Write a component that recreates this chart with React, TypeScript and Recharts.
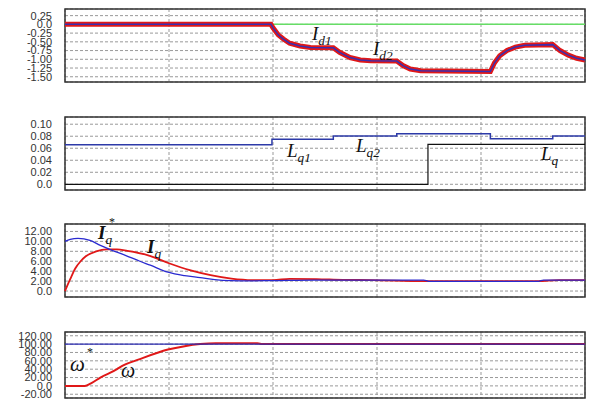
import React from "react";
import {
  LineChart,
  Line,
  XAxis,
  YAxis,
  CartesianGrid,
  ReferenceArea,
} from "recharts";

// time axis runs 0..5, one grid division per unit
const timeTicks = [0, 1, 2, 3, 4, 5];

// panel 1: d-axis current
const idTicks = [0.25, 0, -0.25, -0.5, -0.75, -1.0, -1.25, -1.5];
const idTimes = [
  0, 1.98, 2.0, 2.05, 2.1, 2.16, 2.26, 2.36, 2.58, 2.64, 2.74, 2.84, 2.94,
  3.19, 3.25, 3.32, 3.42, 4.09, 4.13, 4.18, 4.25, 4.33, 4.42, 4.69, 4.76,
  4.84, 4.92, 5.0,
];
const idValues = [
  0, 0, -0.1, -0.3, -0.42, -0.54, -0.62, -0.66, -0.67, -0.8, -0.95, -1.02,
  -1.04, -1.05, -1.18, -1.28, -1.33, -1.35, -1.1, -0.9, -0.75, -0.65, -0.6,
  -0.58, -0.75, -0.88, -0.97, -1.02,
];
const idRefTimes = [0, 5];
const idRefLevel = [0, 0];

// panel 2: q-axis inductance
const lqTicks = [0.1, 0.08, 0.06, 0.04, 0.02, 0];
const lqEstTimes = [0, 1.99, 2.58, 3.19, 4.09, 4.69, 5.0];
const lqEstValues = [0.066, 0.075, 0.0805, 0.084, 0.076, 0.0805, 0.0805];
const lqTimes = [0, 3.49, 5.0];
const lqValues = [0, 0.0665, 0.0665];

// panel 3: q-axis current
const iqTicks = [12, 10, 8, 6, 4, 2, 0];
const iqRefTimes = [
  0, 0.05, 0.125, 0.24, 0.34, 0.43, 0.58, 0.72, 0.82, 0.99, 1.15, 1.3, 1.44,
  1.59, 1.78, 2.0, 2.4, 3.45, 3.5, 4.55, 4.6, 5.0,
];
const iqRefValues = [
  10.0, 10.4, 10.6, 10.2, 9.2, 8.4, 7.2, 6.0, 5.2, 3.8, 3.1, 2.7, 2.3, 2.1,
  2.05, 2.1, 2.2, 2.2, 1.95, 1.95, 2.2, 2.2,
];
const iqTimes = [
  0, 0.02, 0.05, 0.1, 0.15, 0.2, 0.3, 0.4, 0.5, 0.6, 0.8, 1.0, 1.2, 1.4, 1.6,
  1.8, 2.0, 2.16, 2.42, 2.67, 2.95, 3.45, 4.55, 4.75, 5.0,
];
const iqValues = [
  0, 1.0, 2.4, 4.6, 6.0, 7.0, 8.0, 8.4, 8.4, 8.1, 7.2, 5.6, 4.2, 3.2, 2.5, 2.2,
  2.2, 2.45, 2.4, 2.25, 2.2, 2.0, 2.0, 2.2, 2.2,
];

// panel 4: speed
const wTicks = [120, 100, 80, 60, 40, 20, 0, -20];
const wRefTimes = [0, 5.0];
const wRefValues = [100, 100];
const wTimes = [
  0, 0.19, 0.25, 0.34, 0.5, 0.53, 0.72, 0.99, 1.15, 1.3, 1.45, 1.85, 1.9, 5.0,
];
const wValues = [0, 0, 6, 20, 40, 45, 64, 87, 95, 100, 102, 102, 100, 100];

const zip = (t: number[], v: number[]) =>
  t.map((x, i) => ({ t: x, v: v[i] }));

const fmt2 = (v: number) => (v === 0 ? "0.0" : v.toFixed(2));

const tickStyle = {
  fontSize: 11,
  fill: "#333",
  fontFamily: "Liberation Sans, Arial, sans-serif",
};

function Panel({
  top,
  height,
  mTop,
  mBottom,
  domain,
  ticks,
  children,
}: {
  top: number;
  height: number;
  mTop: number;
  mBottom: number;
  domain: [number, number];
  ticks: number[];
  children: React.ReactNode;
}) {
  return (
    <div style={{ position: "absolute", left: 0, top }}>
      <LineChart
        width={589}
        height={height}
        margin={{ top: mTop, right: 4, bottom: mBottom, left: 0 }}
      >
        <CartesianGrid stroke="#999" strokeDasharray="3 2" />
        <XAxis
          type="number"
          dataKey="t"
          domain={[0, 5]}
          ticks={timeTicks}
          hide
        />
        <YAxis
          type="number"
          domain={domain}
          ticks={ticks}
          interval={0}
          width={65}
          tickFormatter={fmt2}
          tick={tickStyle}
          tickLine={false}
          tickMargin={7}
          axisLine={false}
          allowDataOverflow
        />
        <ReferenceArea
          x1={0}
          x2={5}
          y1={domain[0]}
          y2={domain[1]}
          fill="none"
          stroke="#333"
          strokeWidth={1.5}
          ifOverflow="extendDomain"
        />
        {children}
      </LineChart>
    </div>
  );
}

const serif: React.CSSProperties = {
  position: "absolute",
  fontFamily: "Liberation Serif, Times New Roman, serif",
  fontStyle: "italic",
  lineHeight: 1,
  color: "#111",
  whiteSpace: "nowrap",
};

function Lbl({
  x,
  y,
  main,
  sub,
  size = 19,
  bold = false,
}: {
  x: number;
  y: number;
  main: string;
  sub?: string;
  size?: number;
  bold?: boolean;
}) {
  return (
    <div
      style={{ ...serif, left: x, top: y, fontSize: size, fontWeight: bold ? 700 : 400 }}
    >
      {main}
      {sub && (
        <span style={{ fontSize: size * 0.7, position: "relative", top: size * 0.28, fontWeight: 400 }}>
          {sub}
        </span>
      )}
    </div>
  );
}

export default function App() {
  return (
    <div
      style={{
        position: "absolute",
        left: 0,
        top: 0,
        width: 589,
        height: 399,
        background: "#fff",
        overflow: "hidden",
      }}
    >
      <Panel top={0} height={90} mTop={9} mBottom={8} domain={[-1.65, 0.44]} ticks={idTicks}>
        <Line
          data={zip(idRefTimes, idRefLevel)}
          dataKey="v"
          stroke="#66dd66"
          strokeWidth={1.5}
          dot={false}
          isAnimationActive={false}
        />
        <Line
          data={zip(idTimes, idValues)}
          dataKey="v"
          stroke="#e01818"
          strokeWidth={5}
          dot={false}
          isAnimationActive={false}
        />
        <Line
          data={zip(idTimes, idValues)}
          dataKey="v"
          stroke="#3a2fb0"
          strokeWidth={1.5}
          dot={false}
          isAnimationActive={false}
        />
      </Panel>

      <Panel top={100} height={98} mTop={17} mBottom={8} domain={[-0.0095, 0.112]} ticks={lqTicks}>
        <Line
          data={zip(lqEstTimes, lqEstValues)}
          dataKey="v"
          type="stepAfter"
          stroke="#2d3aa8"
          strokeWidth={1.5}
          dot={false}
          isAnimationActive={false}
        />
        <Line
          data={zip(lqTimes, lqValues)}
          dataKey="v"
          type="stepAfter"
          stroke="#111"
          strokeWidth={1.2}
          dot={false}
          isAnimationActive={false}
        />
      </Panel>

      <Panel top={210} height={95} mTop={14} mBottom={8} domain={[-1.2, 13.5]} ticks={iqTicks}>
        <Line
          data={zip(iqTimes, iqValues)}
          dataKey="v"
          type="monotone"
          stroke="#e01818"
          strokeWidth={1.8}
          dot={false}
          isAnimationActive={false}
        />
        <Line
          data={zip(iqRefTimes, iqRefValues)}
          dataKey="v"
          type="monotone"
          stroke="#2a2ad0"
          strokeWidth={1.3}
          dot={false}
          isAnimationActive={false}
        />
      </Panel>

      <Panel top={320} height={79} mTop={12} mBottom={1} domain={[-29, 129]} ticks={wTicks}>
        <Line
          data={zip(wTimes, wValues)}
          dataKey="v"
          type="monotone"
          stroke="#e01818"
          strokeWidth={2}
          dot={false}
          isAnimationActive={false}
        />
        <Line
          data={zip(wRefTimes, wRefValues)}
          dataKey="v"
          stroke="#2a2ab0"
          strokeWidth={1.2}
          dot={false}
          isAnimationActive={false}
        />
      </Panel>

      <Lbl x={312} y={24} main="I" sub="d1" />
      <Lbl x={373} y={39} main="I" sub="d2" />
      <Lbl x={287} y={141} main="L" sub="q1" />
      <Lbl x={356} y={136} main="L" sub="q2" />
      <Lbl x={541} y={144} main="L" sub="q" />
      <Lbl x={98} y={223} main="I" sub="q" bold />
      <div style={{ ...serif, left: 109, top: 216, fontSize: 12, fontStyle: "normal" }}>*</div>
      <Lbl x={147} y={237} main="I" sub="q" bold />
      <Lbl x={70} y={354} main="ω" size={21} />
      <div style={{ ...serif, left: 87, top: 346, fontSize: 12, fontStyle: "normal" }}>*</div>
      <Lbl x={121} y={360} main="ω" size={20} />
    </div>
  );
}
